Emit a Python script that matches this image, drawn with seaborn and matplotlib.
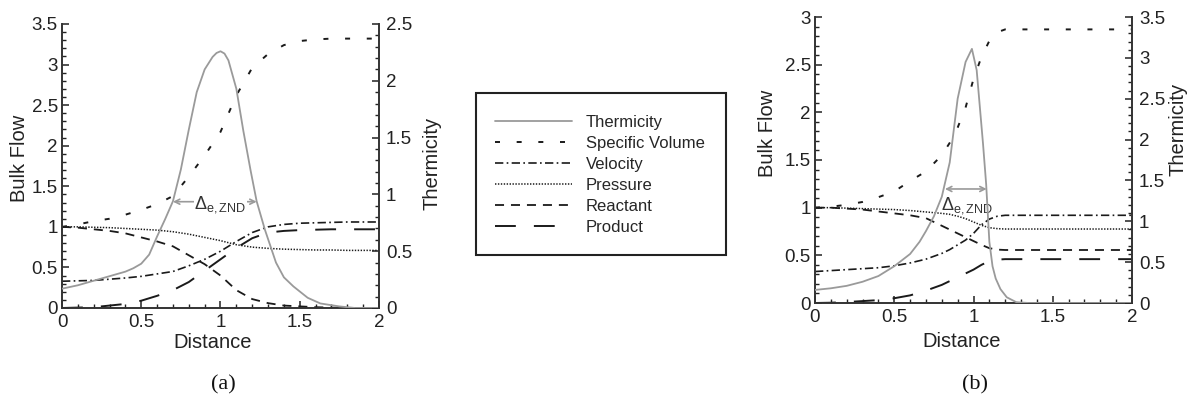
import matplotlib
matplotlib.use("Agg")
import matplotlib.pyplot as plt
import seaborn as sns
from matplotlib.ticker import MultipleLocator, FuncFormatter
from matplotlib.lines import Line2D
from matplotlib.patches import Rectangle

# ---------------- data ----------------
SERIES = ["Thermicity", "Specific Volume", "Velocity", "Pressure", "Reactant", "Product"]

# panel (a)
XA = [0, 0.1, 0.2, 0.3, 0.4, 0.5, 0.6, 0.7, 0.8, 0.9, 1.0, 1.1, 1.2, 1.3, 1.4, 1.5, 1.6, 1.7, 1.8, 1.9, 2.0]
SPVOL_A = [1.0, 1.03, 1.07, 1.10, 1.15, 1.21, 1.28, 1.38, 1.62, 1.88, 2.17, 2.62, 2.96, 3.13, 3.24, 3.29, 3.31, 3.32, 3.32, 3.32, 3.32]
VEL_A = [0.33, 0.335, 0.34, 0.355, 0.37, 0.39, 0.42, 0.45, 0.52, 0.60, 0.70, 0.82, 0.93, 1.0, 1.03, 1.045, 1.05, 1.055, 1.06, 1.06, 1.06]
PRES_A = [1.0, 1.0, 0.995, 0.99, 0.98, 0.97, 0.96, 0.94, 0.91, 0.87, 0.83, 0.78, 0.75, 0.735, 0.725, 0.72, 0.715, 0.715, 0.71, 0.71, 0.71]
REAC_A = [1.0, 0.99, 0.97, 0.95, 0.92, 0.87, 0.82, 0.76, 0.65, 0.54, 0.40, 0.22, 0.11, 0.06, 0.03, 0.02, 0.01, 0.005, 0.0, 0.0, 0.0]
PROD_A = [0.0, 0.005, 0.01, 0.03, 0.05, 0.09, 0.15, 0.22, 0.32, 0.46, 0.60, 0.74, 0.86, 0.93, 0.95, 0.96, 0.965, 0.97, 0.97, 0.97, 0.97]
XA_THERM = [0, 0.1, 0.2, 0.3, 0.4, 0.45, 0.5, 0.55, 0.6, 0.65, 0.7, 0.75, 0.8, 0.85, 0.9, 0.95, 0.975, 1.0,
            1.025, 1.05, 1.1, 1.144, 1.19, 1.228, 1.28, 1.35, 1.4, 1.46, 1.55, 1.63, 1.75, 1.85, 2.0]
THERM_A = [0.17, 0.20, 0.24, 0.28, 0.32, 0.35, 0.39, 0.47, 0.63, 0.78, 0.94, 1.22, 1.57, 1.90, 2.10, 2.21, 2.245, 2.26,
           2.24, 2.18, 1.93, 1.56, 1.21, 0.94, 0.69, 0.40, 0.27, 0.19, 0.09, 0.04, 0.014, 0.0, 0.0]

# panel (b)
XB = [0, 0.1, 0.2, 0.3, 0.4, 0.5, 0.6, 0.7, 0.8, 0.85, 0.9, 0.95, 1.0, 1.05, 1.1, 1.15, 1.2, 1.3, 1.5, 1.75, 2.0]
SPVOL_B = [1.0, 1.01, 1.03, 1.06, 1.11, 1.17, 1.28, 1.38, 1.55, 1.68, 1.84, 2.05, 2.35, 2.58, 2.75, 2.84, 2.87, 2.87, 2.87, 2.87, 2.87]
VEL_B = [0.33, 0.34, 0.35, 0.36, 0.37, 0.39, 0.42, 0.46, 0.52, 0.56, 0.61, 0.66, 0.73, 0.82, 0.88, 0.91, 0.92, 0.92, 0.92, 0.92, 0.92]
PRES_B = [1.0, 1.0, 0.995, 0.99, 0.985, 0.98, 0.97, 0.955, 0.94, 0.93, 0.91, 0.885, 0.85, 0.815, 0.79, 0.78, 0.776, 0.776, 0.776, 0.776, 0.776]
REAC_B = [1.0, 1.0, 0.99, 0.98, 0.96, 0.94, 0.92, 0.89, 0.81, 0.77, 0.73, 0.69, 0.65, 0.61, 0.575, 0.56, 0.556, 0.556, 0.556, 0.556, 0.556]
PROD_B = [0.0, 0.003, 0.01, 0.02, 0.03, 0.05, 0.08, 0.13, 0.19, 0.23, 0.27, 0.31, 0.35, 0.40, 0.44, 0.455, 0.46, 0.46, 0.46, 0.46, 0.46]
XB_THERM = [0, 0.1, 0.2, 0.3, 0.4, 0.5, 0.6, 0.66, 0.7, 0.75, 0.8, 0.85, 0.9, 0.95, 0.99,
            1.02, 1.04, 1.06, 1.08, 1.10, 1.12, 1.14, 1.17, 1.21, 1.27, 1.35, 2.0]
THERM_B = [0.16, 0.18, 0.21, 0.26, 0.33, 0.45, 0.60, 0.75, 0.88, 1.06, 1.30, 1.72, 2.50, 2.95, 3.11,
           2.85, 2.40, 1.95, 1.45, 0.75, 0.45, 0.30, 0.17, 0.07, 0.01, 0.0, 0.0]

PANEL_LABELS = ["(a)", "(b)"]
ANNOT_TEXT = r"$\Delta_{\mathrm{e,ZND}}$"

# ---------------- style ----------------
sns.set_style("ticks")
plt.rcParams["font.family"] = ["Liberation Sans", "DejaVu Sans"]
plt.rcParams["mathtext.fontset"] = "custom"
plt.rcParams["mathtext.rm"] = "Liberation Sans"
plt.rcParams["mathtext.it"] = "Liberation Sans:italic"
plt.rcParams["mathtext.bf"] = "Liberation Sans:bold"
plt.rcParams["lines.scale_dashes"] = False

INK = "#1a1a1a"
GRAY = "#9a9a9a"
STY = {
    "Thermicity": dict(color=GRAY, lw=1.3, ls="-"),
    "Specific Volume": dict(color=INK, lw=1.4, ls=(0, (3.6, 12))),
    "Velocity": dict(color=INK, lw=1.2, ls=(0, (6, 2.4, 1.2, 2.4))),
    "Pressure": dict(color=INK, lw=1.1, ls=(0, (1.0, 1.1))),
    "Reactant": dict(color=INK, lw=1.3, ls=(0, (6.5, 5))),
    "Product": dict(color=INK, lw=1.4, ls=(0, (15, 13))),
}

W, H = 1193, 400
fig = plt.figure(figsize=(W / 100, H / 100), dpi=100)


def px_axes(x0, y_top, x1, y_bot):
    return fig.add_axes([x0 / W, 1 - y_bot / H, (x1 - x0) / W, (y_bot - y_top) / H])


fmt = FuncFormatter(lambda v, p: f"{v:g}")
TICK_FS = 13.5
LABEL_FS = 14.5


def draw_panel(ax, x, spvol, vel, pres, reac, prod, xt, therm, ylim_l, ylim_r,
               ylab_xy, y2lab_xy, xlab_xy):
    for name, y in [("Specific Volume", spvol), ("Velocity", vel), ("Pressure", pres),
                    ("Reactant", reac), ("Product", prod)]:
        s = STY[name]
        sns.lineplot(x=x, y=y, ax=ax, color=s["color"], linewidth=s["lw"], linestyle=s["ls"],
                     estimator=None, errorbar=None, sort=False)
    ax2 = ax.twinx()
    s = STY["Thermicity"]
    sns.lineplot(x=xt, y=therm, ax=ax2, color=s["color"], linewidth=s["lw"], linestyle=s["ls"],
                 estimator=None, errorbar=None, sort=False)

    ax.set_xlim(0, 2)
    ax.set_ylim(*ylim_l)
    ax2.set_ylim(*ylim_r)
    for a in (ax, ax2):
        a.yaxis.set_major_locator(MultipleLocator(0.5))
        a.yaxis.set_minor_locator(MultipleLocator(0.1))
        a.yaxis.set_major_formatter(fmt)
    ax.xaxis.set_major_locator(MultipleLocator(0.5))
    ax.xaxis.set_minor_locator(MultipleLocator(0.1))
    ax.xaxis.set_major_formatter(fmt)

    ax.tick_params(axis="both", which="both", direction="in", colors="#222",
                   labelsize=TICK_FS, top=False, right=False)
    ax.tick_params(which="major", length=5, width=1.1)
    ax.tick_params(which="minor", length=2.6, width=1.0)
    ax.tick_params(axis="y", pad=3)
    ax.tick_params(axis="x", pad=4)
    ax2.tick_params(axis="y", which="both", direction="in", colors="#222",
                    labelsize=TICK_FS, left=False, right=True, pad=5)
    ax2.tick_params(which="major", length=5, width=1.1)
    ax2.tick_params(which="minor", length=2.6, width=1.0)

    ax.spines["top"].set_visible(False)
    ax.spines["right"].set_visible(False)
    for sp in ("top", "left", "bottom"):
        ax2.spines[sp].set_visible(False)
    for sp in (ax.spines["left"], ax.spines["bottom"], ax2.spines["right"]):
        sp.set_linewidth(1.4)
        sp.set_color("#333")

    ax.set_xlabel("Distance", fontsize=LABEL_FS, color="#222")
    ax.set_ylabel("Bulk Flow", fontsize=LABEL_FS, color="#222")
    ax2.set_ylabel("Thermicity", fontsize=LABEL_FS, color="#222")
    ax.xaxis.set_label_coords(*xlab_xy)
    ax.xaxis.label.set_va("center")
    ax.yaxis.set_label_coords(*ylab_xy)
    ax.yaxis.label.set_va("center")
    ax.yaxis.label.set_ha("center")
    ax2.yaxis.set_label_coords(*y2lab_xy)
    ax2.yaxis.label.set_va("center")
    ax2.yaxis.label.set_ha("center")
    return ax2


# panel (a)
axA = px_axes(62, 24, 379, 308)
draw_panel(axA, XA, SPVOL_A, VEL_A, PRES_A, REAC_A, PROD_A, XA_THERM, THERM_A,
           (0, 3.5), (0, 2.5), (-0.1325, 0.528), (1.167, 0.51), (0.476, -0.12))
axA.annotate("", xy=(0.70, 1.31), xytext=(1.228, 1.31),
             arrowprops=dict(arrowstyle="<->", color=GRAY, lw=1.2, shrinkA=0, shrinkB=0,
                             mutation_scale=9))
axA.text(1.0, 1.27, ANNOT_TEXT, ha="center", va="center", fontsize=13, color="#333",
         bbox=dict(fc="white", ec="none", pad=0.5), zorder=5)

# panel (b)
axB = px_axes(815, 17, 1132, 303)
draw_panel(axB, XB, SPVOL_B, VEL_B, PRES_B, REAC_B, PROD_B, XB_THERM, THERM_B,
           (0, 3.0), (0, 3.5), (-0.151, 0.594), (1.145, 0.608), (0.464, -0.136))
axB.annotate("", xy=(0.82, 1.196), xytext=(1.083, 1.196),
             arrowprops=dict(arrowstyle="<->", color=GRAY, lw=1.2, shrinkA=0, shrinkB=0,
                             mutation_scale=9))
axB.text(0.957, 1.02, ANNOT_TEXT, ha="center", va="center", fontsize=13, color="#333", zorder=5)

# legend box
fig.patches.append(Rectangle((476 / W, 1 - 255 / H), 250 / W, 162 / H, transform=fig.transFigure,
                             fill=False, ec="#222", lw=1.5))
handles = [Line2D([], [], color=STY[n]["color"], lw=STY[n]["lw"], ls=STY[n]["ls"]) for n in SERIES]
fig.legend(handles, SERIES, loc="upper left", bbox_to_anchor=(495 / W, 1 - 115.0 / H),
           frameon=False, fontsize=12, handlelength=4.6, handletextpad=0.84,
           labelspacing=0.36, borderpad=0, borderaxespad=0)

# panel labels
fig.text(223 / W, 1 - 385 / H, PANEL_LABELS[0], family="Liberation Serif", fontsize=16,
         ha="center", va="center", color="#111")
fig.text(975 / W, 1 - 385 / H, PANEL_LABELS[1], family="Liberation Serif", fontsize=16,
         ha="center", va="center", color="#111")

fig.savefig("out.png", dpi=100)
